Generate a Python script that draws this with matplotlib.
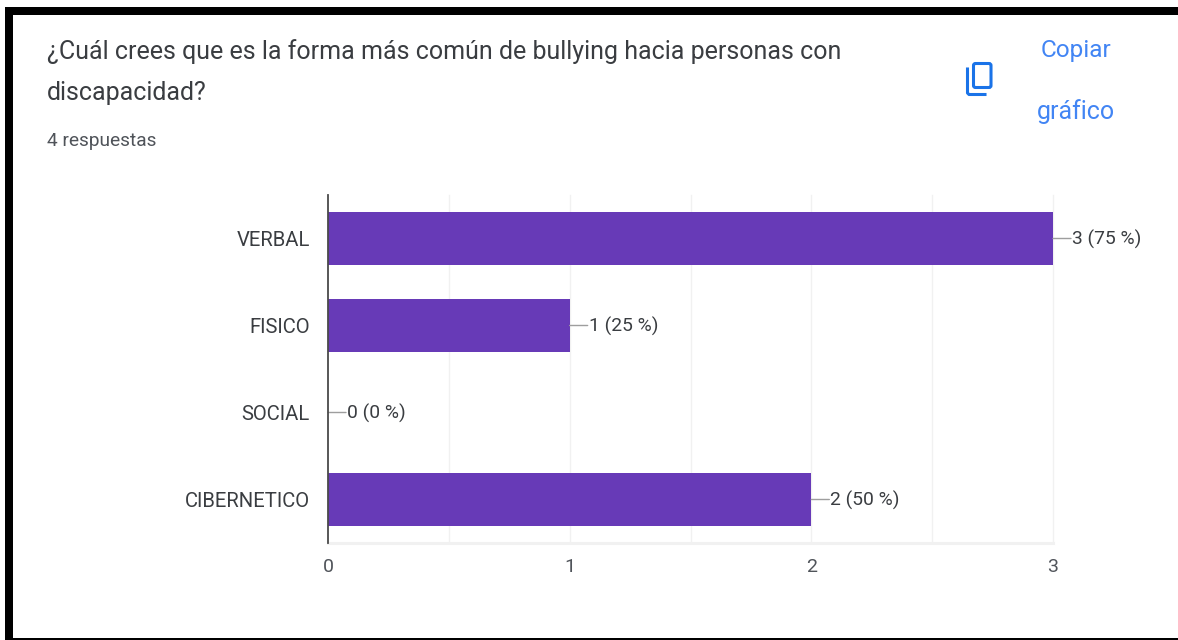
import matplotlib
matplotlib.use('Agg')
import matplotlib.pyplot as plt
from matplotlib.patches import Rectangle, FancyBboxPatch
from matplotlib.lines import Line2D

plt.rcParams['font.family'] = ['Roboto', 'DejaVu Sans']

categories = ['VERBAL', 'FISICO', 'SOCIAL', 'CIBERNETICO']
counts = [3, 1, 0, 2]
percents = [75, 25, 0, 50]
x_ticks = [0, 1, 2, 3]
minor_ticks = [0.5, 1, 1.5, 2, 2.5, 3]

W, H = 1178, 640
purple = '#673ab7'
blue = '#4285f4'

fig = plt.figure(figsize=(W / 100, H / 100), dpi=100)

# pixel layer for the screenshot frame, header and icon
bg = fig.add_axes([0, 0, 1, 1])
bg.set_xlim(0, W)
bg.set_ylim(H, 0)
bg.axis('off')
bg.add_patch(Rectangle((5, 7), W - 5, 8, color='black', lw=0))
bg.add_patch(Rectangle((5, 7), 8, H - 7, color='black', lw=0))
bg.add_patch(Rectangle((5, 638), W - 5, 2, color='black', lw=0))

bg.text(47, 52, '¿Cuál crees que es la forma más común de bullying hacia personas con',
        fontsize=18.02, color='#3a3d41', va='center', ha='left')
bg.text(47, 93, 'discapacidad?', fontsize=18.02, color='#3a3d41', va='center', ha='left')
bg.text(47, 141, '4 respuestas', fontsize=13.8, color='#50545a', va='center', ha='left')
bg.text(1076, 50, 'Copiar', fontsize=17.6, color=blue, va='center', ha='center')
bg.text(1076, 112, 'gráfico', fontsize=18, color=blue, va='center', ha='center')

# copy icon
icon = '#1a73e8'
bg.add_patch(FancyBboxPatch((973.5, 63.5), 17.5, 24, boxstyle='round,pad=0,rounding_size=2',
                            fill=False, ec=icon, lw=2.2))
bg.add_line(Line2D([967.5, 967.5, 969, 985], [69, 93, 94.5, 94.5], color=icon, lw=2.2))

# chart
ax = fig.add_axes([328 / W, 1 - 543 / H, (1053 - 328) / W, (543 - 195) / H])
ax.set_xlim(0, 3)
ax.set_ylim(3.5, -0.5)
ax.patch.set_alpha(0)
for s in ax.spines.values():
    s.set_visible(False)
ax.spines['left'].set_visible(True)
ax.spines['left'].set_color('#4a4a4a')
ax.spines['left'].set_linewidth(1.3)
ax.spines['left'].set_zorder(5)

for v in minor_ticks:
    ax.axvline(v, color='#f1f1f1', lw=1, zorder=0, clip_on=False)
ax.axhline(3.5, color='#f1f1f1', lw=2.2, zorder=0, clip_on=False)

ax.barh(range(len(categories)), counts, height=0.62, color=purple, zorder=2)

ax.set_yticks(range(len(categories)))
ax.set_yticklabels(categories, fontsize=14.6, color='#3a3d41', va='center_baseline')
ax.set_xticks(x_ticks)
ax.set_xticklabels([str(v) for v in x_ticks], fontsize=14, color='#50545a')
ax.tick_params(axis='both', length=0)
ax.tick_params(axis='y', pad=13)
ax.tick_params(axis='x', pad=11)

for i, (c, p) in enumerate(zip(counts, percents)):
    ax.annotate('', xy=(c, i), xytext=(18, 0), textcoords='offset pixels',
                arrowprops=dict(arrowstyle='-', color='#9e9e9e', lw=1, shrinkA=0, shrinkB=0),
                annotation_clip=False, zorder=3)
    ax.annotate(f'{c} ({p} %)', xy=(c, i), xytext=(19, -1), textcoords='offset pixels',
                fontsize=13.9, color='#3a3d41', va='center', ha='left', annotation_clip=False)

fig.savefig('out.png', dpi=100, facecolor='white')
